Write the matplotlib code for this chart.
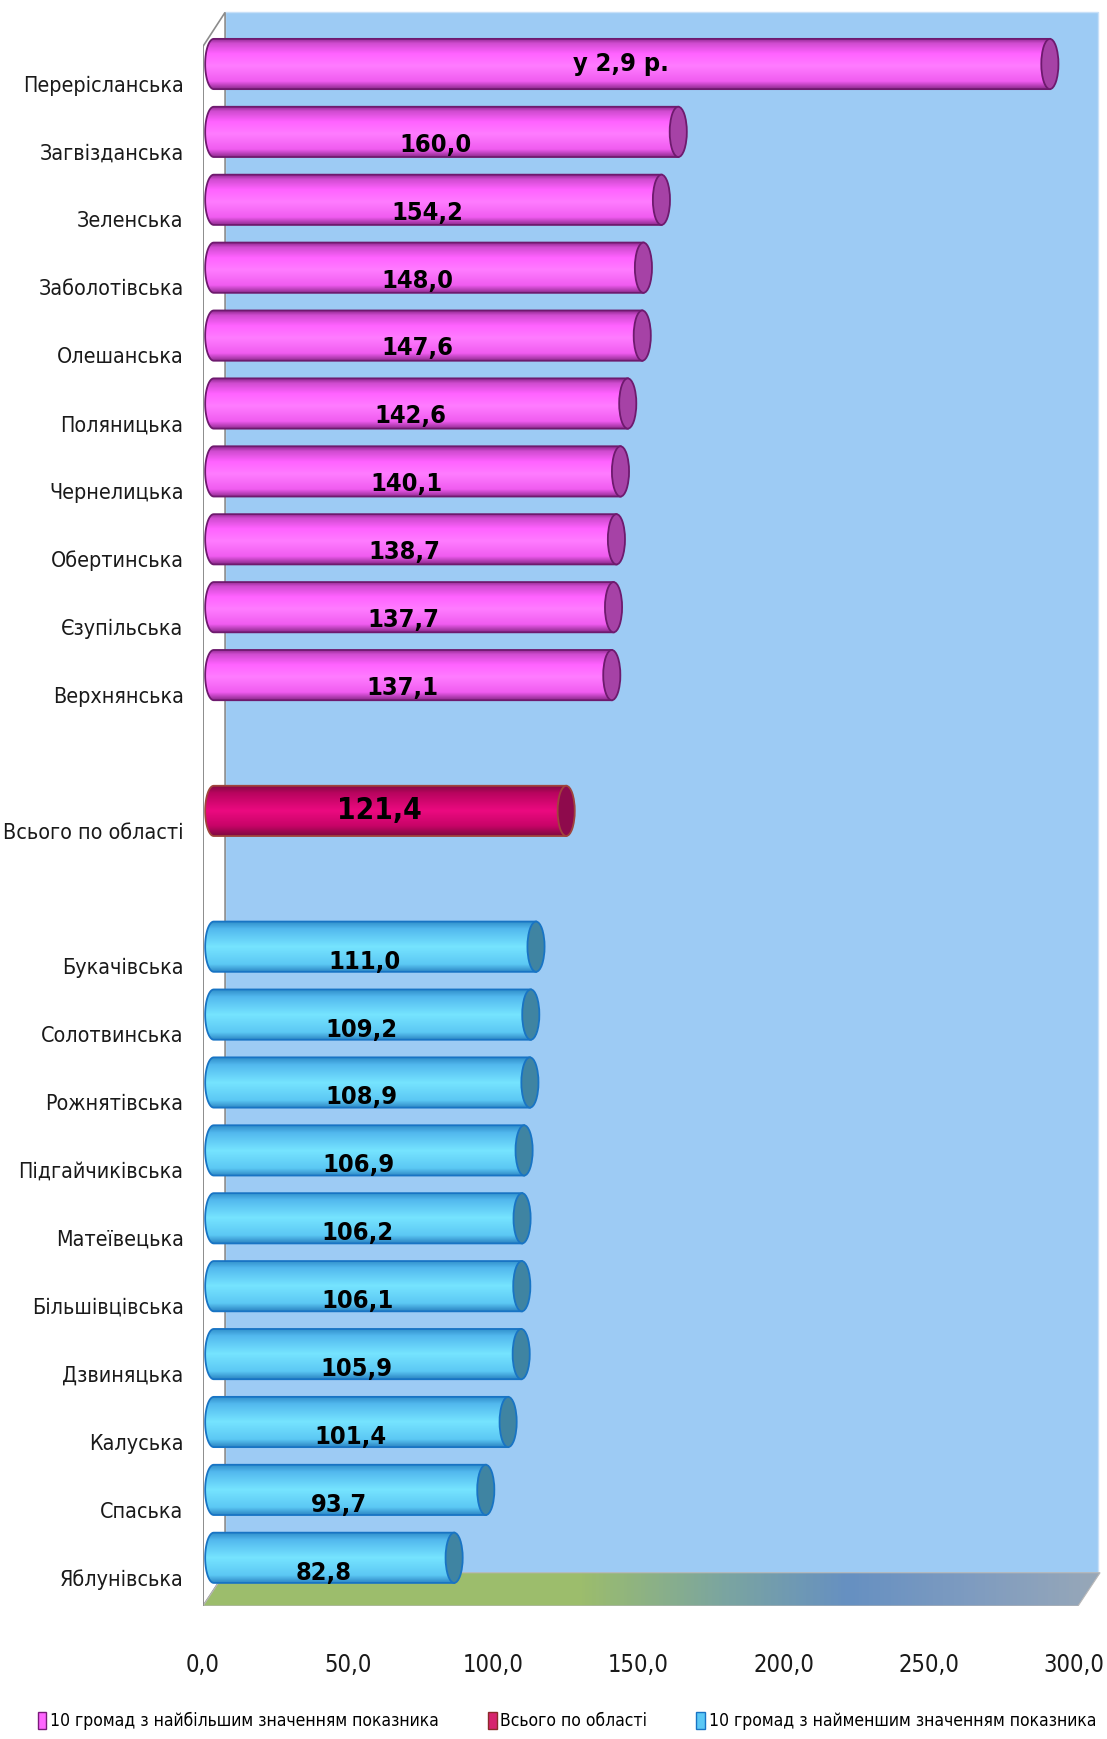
import numpy as np
import matplotlib
matplotlib.use("Agg")
from matplotlib import pyplot as plt
from matplotlib import font_manager as fm
from matplotlib.colors import LinearSegmentedColormap
from matplotlib.patches import Polygon, Ellipse, Patch

# data
top_names = ["Перерісланська", "Загвізданська", "Зеленська", "Заболотівська", "Олешанська",
             "Поляницька", "Чернелицька", "Обертинська", "Єзупільська", "Верхнянська"]
top_values = [288.0, 160.0, 154.2, 148.0, 147.6, 142.6, 140.1, 138.7, 137.7, 137.1]
top_labels = ["у 2,9 р.", "160,0", "154,2", "148,0", "147,6", "142,6", "140,1", "138,7", "137,7", "137,1"]

total_name = "Всього по області"
total_value = 121.4
total_label = "121,4"

low_names = ["Букачівська", "Солотвинська", "Рожнятівська", "Підгайчиківська", "Матеївецька",
             "Більшівцівська", "Дзвиняцька", "Калуська", "Спаська", "Яблунівська"]
low_values = [111.0, 109.2, 108.9, 106.9, 106.2, 106.1, 105.9, 101.4, 93.7, 82.8]
low_labels = ["111,0", "109,2", "108,9", "106,9", "106,2", "106,1", "105,9", "101,4", "93,7", "82,8"]

legend_labels = ["10 громад з найбільшим значенням показника", "Всього по області",
                 "10 громад з найменшим значенням показника"]
xticks = [0, 50, 100, 150, 200, 250, 300]

# narrow font if there is one, otherwise plain DejaVu with smaller sizes
fonts = fm.fontManager.ttflist
k = 1.0
if any(f.name == "Liberation Sans Narrow" for f in fonts):
    plt.rcParams["font.family"] = ["Liberation Sans Narrow", "DejaVu Sans"]
    k = 1.2
elif any(f.name == "DejaVu Sans" and f.stretch == "condensed" for f in fonts):
    plt.rcParams["font.family"] = ["DejaVu Sans"]
    plt.rcParams["font.stretch"] = "condensed"
    k = 1.1
else:
    plt.rcParams["font.family"] = ["DejaVu Sans"]

# slot positions (empty slot between groups)
top_pos = np.arange(10)
total_pos = 11
low_pos = np.arange(13, 23)

DX = 3.7      # depth shift of bars (x units)
DY = 0.29     # depth shift of bars (slots)
H = 0.74      # bar thickness
EW = 5.9      # cap ellipse width
WALL_DX = 7.6
Y_FRONT = 22.42
Y_BACK = 21.93

fig = plt.figure(figsize=(11.07, 17.39), dpi=100)
ax = fig.add_axes([203 / 1107, 133 / 1739, 900 / 1107, 1597 / 1739])
ax.set_xlim(0, 310)
ax.set_ylim(Y_FRONT, -1.1)

# back wall
ax.add_patch(Polygon([(WALL_DX, -1.05), (308.3, -1.05), (308.3, Y_BACK), (WALL_DX, Y_BACK)],
                     closed=True, facecolor="#9DCBF4", edgecolor="#C8E0F8", lw=1, zorder=1))
# left wall
ax.add_patch(Polygon([(0, Y_FRONT), (0, -0.55), (WALL_DX, -1.05), (WALL_DX, Y_BACK)],
                     closed=True, facecolor="white", edgecolor="#8C8C8C", lw=1.2, zorder=1))
# floor
floor_cmap = LinearSegmentedColormap.from_list(
    "floor", [(0, "#9CBD6C"), (0.42, "#9CBD6C"), (0.58, "#7BA5A0"), (0.72, "#6690C2"),
              (0.86, "#7F9CC0"), (1.0, "#98A8B8")])
floor = Polygon([(0, Y_FRONT), (301.4, Y_FRONT), (309, Y_BACK), (WALL_DX, Y_BACK)],
                closed=True, facecolor="none", edgecolor="#B8B8B8", lw=0.8, zorder=2.1)
ax.add_patch(floor)
fim = ax.imshow(np.linspace(0, 1, 256).reshape(1, -1), cmap=floor_cmap, aspect="auto",
                extent=(0, 309, Y_FRONT, Y_BACK), zorder=2)
fim.set_clip_path(floor)
ax.plot([0, 0], [-0.55, Y_FRONT], color="#8C8C8C", lw=1.2, zorder=2.2)


def cylinder(y, v, stops, cap, edge):
    yc = y - DY
    x0, x1 = DX, v + DX
    t = np.linspace(np.pi / 2, 3 * np.pi / 2, 40)
    pts = np.column_stack([x0 + EW / 2 * np.cos(t), yc - H / 2 * np.sin(t)])
    pts = np.vstack([pts, [[x1, yc + H / 2], [x1, yc - H / 2]]])
    body = Polygon(pts, closed=True, facecolor="none", edgecolor=edge, lw=1.3, zorder=4)
    ax.add_patch(body)
    cmap = LinearSegmentedColormap.from_list("c", stops)
    im = ax.imshow(np.linspace(0, 1, 128).reshape(-1, 1), cmap=cmap, aspect="auto",
                   extent=(x0 - EW / 2, x1, yc + H / 2, yc - H / 2), zorder=3)
    im.set_clip_path(body)
    ax.add_patch(Ellipse((x1, yc), EW, H, facecolor=cap, edgecolor=edge, lw=1.3, zorder=5))


mag = [(0, "#8A268A"), (0.1, "#D04CD0"), (0.3, "#FF62FF"), (0.55, "#FF7CFF"),
       (0.85, "#F05CF0"), (1, "#8E2A8E")]
red = [(0, "#7E0A40"), (0.15, "#B8045E"), (0.5, "#EC0A80"), (0.8, "#C80468"), (1, "#7E0A40")]
blue = [(0, "#2E8CC8"), (0.15, "#52B8EE"), (0.5, "#76E4FF"), (0.85, "#5CC8F4"), (1, "#2C86C4")]

for p, v in zip(top_pos, top_values):
    cylinder(p, v, mag, "#A642A6", "#6E1A6E")
cylinder(total_pos, total_value, red, "#8E0A4C", "#A0443C")
for p, v in zip(low_pos, low_values):
    cylinder(p, v, blue, "#3F84A2", "#1874C4")

# value labels
for i, (p, v, s) in enumerate(zip(top_pos, top_values, top_labels)):
    off = DY if i == 0 else 0.1
    ax.text(v / 2, p - off, s, ha="center", va="center", fontsize=16.5 * k, fontweight="bold", zorder=6)
ax.text(total_value / 2, total_pos - DY, total_label, ha="center", va="center",
        fontsize=19.5 * k, fontweight="bold", zorder=6)
for p, v, s in zip(low_pos, low_values, low_labels):
    ax.text(v / 2, p - 0.07, s, ha="center", va="center", fontsize=16.5 * k, fontweight="bold", zorder=6)

ax.set_yticks(list(top_pos) + [total_pos] + list(low_pos))
ax.set_yticklabels(top_names + [total_name] + low_names, fontsize=14 * k, color="#1A1A1A")
ax.set_xticks(xticks)
ax.set_xticklabels([f"{t:.1f}".replace(".", ",") for t in xticks], fontsize=15.5 * k, color="#1A1A1A")
ax.tick_params(axis="y", length=0, pad=14)
ax.tick_params(axis="x", length=0, pad=34)
for s in ax.spines.values():
    s.set_visible(False)

handles = [Patch(facecolor="#FF66FF", edgecolor="#7A1A7A"),
           Patch(facecolor="#D6246E", edgecolor="#8B2A2A"),
           Patch(facecolor="#5BC8F5", edgecolor="#1874C4")]
fig.legend(handles, legend_labels, loc="lower center", bbox_to_anchor=(0.512, -0.004), ncol=3,
           frameon=False, fontsize=11.5 * k, handlelength=0.5, handleheight=1.1,
           handletextpad=0.2, columnspacing=2.8)

fig.savefig("out.png", dpi=100)
